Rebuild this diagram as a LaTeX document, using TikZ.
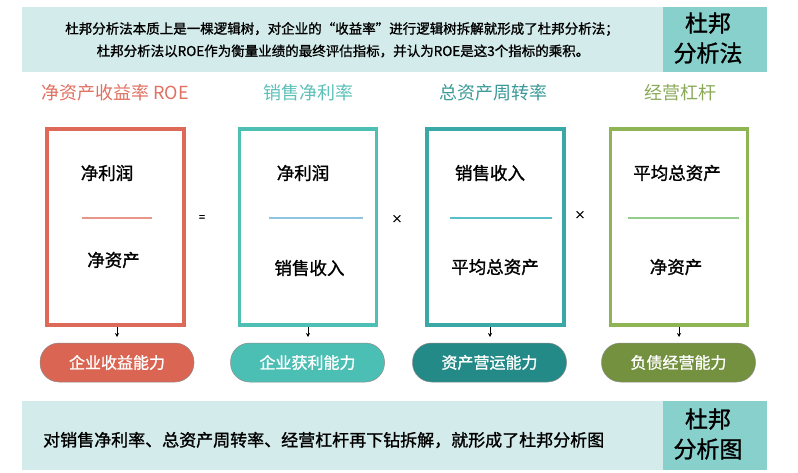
\documentclass[tikz,border=0pt]{standalone}
\usepackage{fontspec}
\setmainfont{Noto Sans CJK SC}
\newfontfamily\medfont{Noto Sans CJK SC}[FakeBold=1.2]
\usetikzlibrary{arrows.meta}
\definecolor{bannerbg}{HTML}{D3EBEA}
\definecolor{bannerdark}{HTML}{88D0CC}
\definecolor{cred}{HTML}{DD6A58}
\definecolor{cteal}{HTML}{4DBFB5}
\definecolor{cdteal}{HTML}{3AA8A6}
\definecolor{cgreen}{HTML}{8FB454}
\definecolor{pred}{HTML}{D96552}
\definecolor{pteal}{HTML}{4CBFB5}
\definecolor{pdteal}{HTML}{238A87}
\definecolor{pgreen}{HTML}{73913F}
\definecolor{hred}{HTML}{E07060}
\definecolor{hteal}{HTML}{5CC0B8}
\definecolor{hdteal}{HTML}{3A9A98}
\definecolor{hgreen}{HTML}{8AAA5A}
\definecolor{dred}{HTML}{E8958A}
\definecolor{dblue}{HTML}{8EC5E0}
\definecolor{dteal}{HTML}{5BBFC9}
\definecolor{dgreen}{HTML}{94CC8C}
\tikzset{
  fbox/.style={draw, line width=3.5pt, fill=white, minimum width=137pt, minimum height=196pt, inner sep=0pt},
  pill/.style={draw=black!45, line width=0.5pt, rounded corners=19pt, minimum width=154pt, minimum height=39pt, text=white, font=\medfont\fontsize{16}{18}\selectfont, inner sep=0pt},
  head/.style={font=\fontsize{18}{20}\selectfont},
  btext/.style={font=\medfont\fontsize{17.5}{19}\selectfont},
  divline/.style={line width=1.6pt},
  op/.style={font=\medfont\fontsize{11}{13}\selectfont},
  arr/.style={-{Stealth[length=4pt,width=4pt]}, line width=0.6pt},
  sidebox/.style={fill=bannerdark, minimum width=104pt, minimum height=65pt, inner sep=0pt},
  sidetext/.style={align=center, font=\medfont\fontsize{23}{30}\selectfont, inner sep=0pt},
  toptext/.style={font=\medfont\fontsize{13.5}{15}\selectfont}
}
\begin{document}
\begin{tikzpicture}[x=1pt,y=-1pt]
\useasboundingbox (0,0) rectangle (798,473);
% top banner
\fill[bannerbg] (22,7) rectangle (767,72);
\node[sidebox] (tside) at (715,39.5) {};
\node[sidetext] (tsidet) at (708,38) {杜邦\\分析法};
\node[toptext] (t1) at (342,29) {杜邦分析法本质上是一棵逻辑树，对企业的“收益率”进行逻辑树拆解就形成了杜邦分析法；};
\node[toptext] (t2) at (343,51) {杜邦分析法以ROE作为衡量业绩的最终评估指标，并认为ROE是这3个指标的乘积。};
% headers
\node[head, text=hred] (h1) at (115,93) {净资产收益率 ROE};
\node[head, text=hteal] (h2) at (308,93) {销售净利率};
\node[head, text=hdteal] (h3) at (493,93) {总资产周转率};
\node[head, text=hgreen] (h4) at (680,93) {经营杠杆};
% boxes
\node[fbox, draw=cred] (b1) at (115.5,227) {};
\node[fbox, draw=cteal] (b2) at (308,227) {};
\node[fbox, draw=cdteal] (b3) at (495.5,227) {};
\node[fbox, draw=cgreen] (b4) at (679,227) {};
% numerators/denominators
\node[btext] (n1) at (107,173) {净利润};
\node[btext] (d1) at (113.5,260) {净资产};
\node[btext] (n2) at (303,173) {净利润};
\node[btext] (d2) at (309.5,268) {销售收入};
\node[btext] (n3) at (490,173) {销售收入};
\node[btext] (d3) at (495,267) {平均总资产};
\node[btext] (n4) at (677,173) {平均总资产};
\node[btext] (d4) at (676,267) {净资产};
% dividers
\coordinate (l1a) at (82,218); \coordinate (l1b) at (152,218);
\coordinate (l2a) at (269,218); \coordinate (l2b) at (363,218);
\coordinate (l3a) at (450,218); \coordinate (l3b) at (552,218);
\coordinate (l4a) at (628,218); \coordinate (l4b) at (739,218);
\draw[divline, draw=dred] (l1a) -- (l1b);
\draw[divline, draw=dblue] (l2a) -- (l2b);
\draw[divline, draw=dteal] (l3a) -- (l3b);
\draw[divline, draw=dgreen] (l4a) -- (l4b);
% operators
\node[op] (o1) at (202,218) {=};
\node[op] (o2) at (397,219) {×};
\node[op] (o3) at (580,215) {×};
% pills
\node[pill, fill=pred] (p1) at (117,362.5) {企业收益能力};
\node[pill, fill=pteal] (p2) at (307.5,362.5) {企业获利能力};
\node[pill, fill=pdteal] (p3) at (489.5,362.5) {资产营运能力};
\node[pill, fill=pgreen] (p4) at (678.5,362.5) {负债经营能力};
\coordinate (a1) at (117,337); \coordinate (a2) at (308,337);
\coordinate (a3) at (490,337); \coordinate (a4) at (679,337);
\draw[arr] (b1.south-|a1) -- (a1);
\draw[arr] (b2.south-|a2) -- (a2);
\draw[arr] (b3.south-|a3) -- (a3);
\draw[arr] (b4.south-|a4) -- (a4);
% bottom banner
\fill[bannerbg] (22,401) rectangle (767,470);
\node[sidebox, minimum height=69pt] (bside) at (715,435.5) {};
\node[sidetext] (bsidet) at (708,434) {杜邦\\分析图};
\node[anchor=west, font=\medfont\fontsize{17}{19}\selectfont, inner sep=0pt] (bt) at (43,440) {对销售净利率、总资产周转率、经营杠杆再下钻拆解，就形成了杜邦分析图};
\end{tikzpicture}
\end{document}
